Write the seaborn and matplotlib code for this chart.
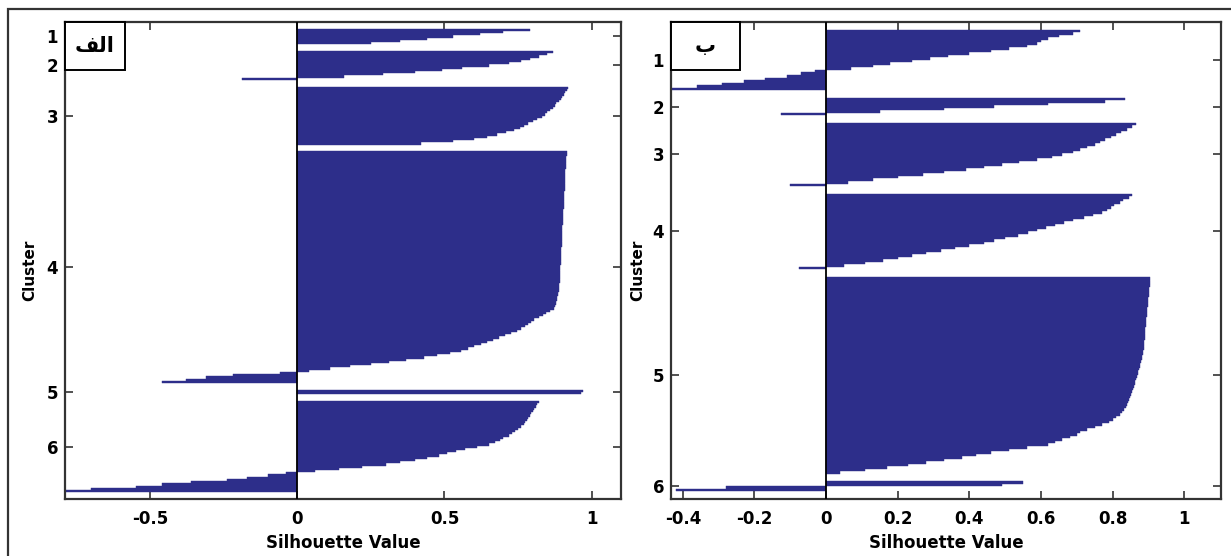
import matplotlib
matplotlib.use("Agg")
import matplotlib.pyplot as plt
from matplotlib.patches import Rectangle
import pandas as pd
import seaborn as sns

# ---------------- data (sorted silhouette values per cluster) -------------
# Panel "الف"
left_c1 = [0.79, 0.70, 0.62, 0.53, 0.44, 0.35, 0.25]
left_c2 = [0.87, 0.85, 0.82, 0.79, 0.76, 0.72, 0.65, 0.56, 0.49, 0.40, 0.29, 0.16, -0.19]
left_c3 = [0.92, 0.915, 0.91, 0.905, 0.90, 0.895, 0.89, 0.88, 0.875, 0.87, 0.86, 0.85, 0.84,
           0.83, 0.815, 0.80, 0.785, 0.77, 0.755, 0.735, 0.71, 0.68, 0.645, 0.60, 0.53, 0.42]
left_c4 = [0.915, 0.915, 0.914, 0.914, 0.913, 0.913, 0.912, 0.912, 0.911, 0.911, 0.910,
           0.910, 0.909, 0.909, 0.909, 0.908, 0.908, 0.908, 0.907, 0.907, 0.907,
           0.906, 0.906, 0.905, 0.905, 0.905, 0.904, 0.904, 0.903, 0.903, 0.903,
           0.902, 0.902, 0.901, 0.901, 0.901, 0.900, 0.900, 0.899, 0.899, 0.899,
           0.898, 0.898, 0.897, 0.897, 0.897, 0.896, 0.896, 0.896, 0.895, 0.895,
           0.894, 0.894, 0.893, 0.893, 0.892, 0.892, 0.891, 0.891, 0.890, 0.890,
           0.889, 0.888, 0.887, 0.885, 0.884, 0.882, 0.880, 0.878, 0.875, 0.871,
           0.86, 0.845, 0.835, 0.82, 0.805, 0.795, 0.785, 0.775, 0.76, 0.745,
           0.725, 0.705, 0.685, 0.665, 0.645, 0.625, 0.60, 0.58, 0.555, 0.52,
           0.475, 0.43, 0.37, 0.31, 0.25, 0.18, 0.11, 0.04,
           -0.06, -0.22, -0.31, -0.38, -0.46]
left_c5 = [0.97, 0.965]
left_c6 = [0.82, 0.815, 0.81, 0.805, 0.80, 0.795, 0.79, 0.785, 0.78, 0.775, 0.77, 0.76,
           0.75, 0.74, 0.73, 0.72, 0.70, 0.69, 0.67, 0.65, 0.61, 0.57, 0.54, 0.51, 0.48,
           0.44, 0.40, 0.35, 0.30, 0.22, 0.14, 0.06,
           -0.04, -0.10, -0.17, -0.24, -0.36, -0.46, -0.55, -0.70, -0.80]

# Panel "ب"
right_c1 = [0.71, 0.69, 0.65, 0.62, 0.60, 0.59, 0.56, 0.51, 0.46, 0.40, 0.34, 0.29,
            0.24, 0.18, 0.13, 0.07,
            -0.03, -0.07, -0.11, -0.17, -0.23, -0.29, -0.36, -0.44]
right_c2 = [0.835, 0.78, 0.62, 0.47, 0.33, 0.15, -0.126]
right_c3 = [0.865, 0.855, 0.84, 0.825, 0.81, 0.795, 0.78, 0.765, 0.75, 0.73, 0.71, 0.69,
            0.66, 0.63, 0.59, 0.54, 0.49, 0.44, 0.39, 0.33, 0.27, 0.20, 0.13, 0.06, -0.10]
right_c4 = [0.855, 0.845, 0.83, 0.82, 0.805, 0.795, 0.785, 0.77, 0.745, 0.72, 0.69, 0.665,
            0.64, 0.615, 0.59, 0.565, 0.535, 0.50, 0.47, 0.44, 0.40, 0.36, 0.32, 0.28,
            0.24, 0.20, 0.16, 0.11, 0.05, -0.076]
right_c5 = [0.905, 0.905, 0.904, 0.904, 0.903, 0.903, 0.902, 0.901, 0.900, 0.900, 0.899,
            0.898, 0.897, 0.896, 0.895,
            0.895, 0.894, 0.894, 0.893, 0.893, 0.892, 0.892, 0.891, 0.890, 0.890, 0.889,
            0.889, 0.888,
            0.887, 0.886, 0.884, 0.883, 0.881, 0.879, 0.878, 0.876, 0.874, 0.872, 0.870,
            0.868, 0.866, 0.864, 0.862, 0.860, 0.857, 0.855, 0.852, 0.849, 0.846, 0.843,
            0.840, 0.838,
            0.832, 0.826, 0.82, 0.81, 0.80,
            0.79, 0.77, 0.75, 0.73, 0.71, 0.70, 0.68, 0.66, 0.64, 0.62,
            0.56, 0.51, 0.46, 0.42, 0.38, 0.33, 0.28, 0.23, 0.17, 0.11, 0.04]
right_c6 = [0.55, 0.49, -0.28, -0.42]

cluster_names = ["1", "2", "3", "4", "5", "6"]
left_xticks = [-0.5, 0, 0.5, 1]
left_xticklabels = ["-0.5", "0", "0.5", "1"]
right_xticks = [-0.4, -0.2, 0, 0.2, 0.4, 0.6, 0.8, 1]
right_xticklabels = ["-0.4", "-0.2", "0", "0.2", "0.4", "0.6", "0.8", "1"]
panel_labels = ["الف", "ب"]
x_title = "Silhouette Value"
y_title = "Cluster"

# ---------------- helpers -------------
GAP = 3  # empty rows between clusters (as in MATLAB's silhouette)


def layout(clusters):
    rows, vals, cl, centers = [], [], [], []
    pos = GAP
    for k, c in enumerate(clusters):
        idx = list(range(pos, pos + len(c)))
        rows += idx
        vals += list(c)
        cl += [cluster_names[k]] * len(c)
        centers.append((idx[0] + idx[-1]) / 2)
        pos += len(c) + GAP
    return pd.DataFrame({"row": rows, "value": vals, "cluster": cl}), centers, pos


ARABIC_FORMS = {  # isolated, initial, medial, final
    "\u0627": ("\ufe8d", None, None, "\ufe8e"),
    "\u0644": ("\ufedd", "\ufedf", "\ufee0", "\ufede"),
    "\u0641": ("\ufed1", "\ufed3", "\ufed4", "\ufed2"),
    "\u0628": ("\ufe8f", "\ufe91", "\ufe92", "\ufe90"),
}


def shape_arabic(word):
    out = []
    n = len(word)
    for i, ch in enumerate(word):
        iso, ini, med, fin = ARABIC_FORMS[ch]
        prev_joins = i > 0 and ARABIC_FORMS[word[i - 1]][1] is not None
        join_next = ini is not None and i < n - 1
        if prev_joins and join_next:
            f = med
        elif prev_joins:
            f = fin
        elif join_next:
            f = ini
        else:
            f = iso
        out.append(f)
    return "".join(reversed(out))


# ---------------- style -------------
sns.set_style("white")
plt.rcParams["font.family"] = ["DejaVu Sans"]
plt.rcParams["font.weight"] = "bold"
plt.rcParams["axes.labelweight"] = "bold"
plt.rcParams["text.color"] = "black"
plt.rcParams["axes.labelcolor"] = "black"

BAR = "#2d2e8a"
SPINE = "#333333"

fig = plt.figure(figsize=(12.31, 5.56), dpi=100)
W, H = 1231, 556
ax_l = fig.add_axes([65 / W, 1 - 499 / H, 556 / W, 477 / H])
ax_r = fig.add_axes([671 / W, 1 - 499 / H, 550 / W, 477 / H])

panels = [
    (ax_l, [left_c1, left_c2, left_c3, left_c4, left_c5, left_c6], (-0.79, 1.1),
     left_xticks, left_xticklabels, panel_labels[0], 0.108, -0.05),
    (ax_r, [right_c1, right_c2, right_c3, right_c4, right_c5, right_c6], (-0.433, 1.103),
     right_xticks, right_xticklabels, panel_labels[1], 0.125, -0.046),
]

for ax, clusters, xlim, xt, xtl, plabel, boxw, ylab_x in panels:
    df, centers, total = layout(clusters)
    sns.barplot(data=df, x="value", y="row", orient="h", native_scale=True,
                color=BAR, saturation=1, width=1.0, errorbar=None,
                edgecolor=BAR, linewidth=0.3, ax=ax)
    ax.axvline(0, color="black", lw=1.3, zorder=3)
    ax.set_xlim(*xlim)
    ax.set_ylim(total - 0.5, -0.5)
    ax.set_xticks(xt)
    ax.set_xticklabels(xtl)
    ax.set_yticks(centers)
    ax.set_yticklabels(cluster_names)
    ax.set_xlabel(x_title, fontsize=12, labelpad=4)
    ax.set_ylabel(y_title, fontsize=11)
    ax.yaxis.set_label_coords(ylab_x, 0.48)
    ax.tick_params(axis="both", direction="in", length=6, width=1.2, color=SPINE,
                   labelcolor="black", top=True, right=True, bottom=True, left=True,
                   labelsize=12)
    ax.tick_params(axis="x", pad=8)
    ax.tick_params(axis="y", pad=5)
    for s in ax.spines.values():
        s.set_visible(True)
        s.set_color(SPINE)
        s.set_linewidth(1.6)
    # panel label box
    ax.add_patch(Rectangle((0, 1 - 0.1), boxw, 0.1, transform=ax.transAxes,
                           fill=True, facecolor="white", edgecolor="black", lw=1.4,
                           zorder=5, clip_on=False))
    ax.text(boxw / 2, 0.95, shape_arabic(plabel), transform=ax.transAxes,
            ha="center", va="center", fontsize=15, fontweight="bold",
            family=["DejaVu Sans"], zorder=6)

# outer frame (cropped on the right and bottom, as in the reference)
fig.add_artist(Rectangle((8 / W, -0.1), 1.2, 1.1 - 9 / H, transform=fig.transFigure,
                         fill=False, edgecolor=SPINE, lw=1.6))

fig.savefig("out.png", dpi=100)
